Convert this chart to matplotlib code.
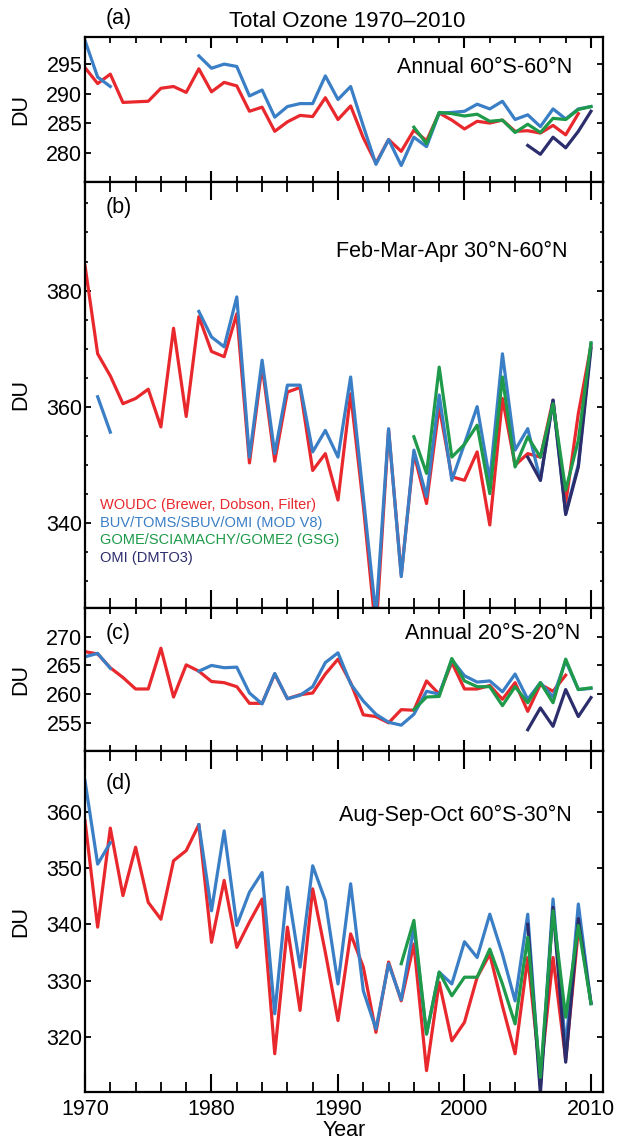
import numpy as np
import matplotlib
matplotlib.use('Agg')
import matplotlib.pyplot as plt
from matplotlib.ticker import MultipleLocator

nan = np.nan
years = np.arange(1970, 2011)

# Panel (a): Annual 60S-60N
a_woudc = [294.4, 291.7, 293.3, 288.5, 288.6, 288.7, 290.9, 291.2, 290.2, 294.2,
           290.3, 291.9, 291.3, 287.0, 287.7, 283.6, 285.2, 286.3, 286.1, 289.3,
           285.6, 287.9, 282.5, 278.2, 282.2, 280.2, 283.8, 282.0, 286.7, 285.5,
           284.0, 285.3, 285.0, 285.5, 283.6, 283.7, 283.3, 284.6, 283.0, 286.6, nan]
a_sbuv = [299.0, 292.8, 291.2, nan, nan, nan, nan, nan, nan, 296.4,
          294.3, 295.0, 294.6, 289.6, 290.6, 286.0, 287.8, 288.3, 288.3, 293.0,
          289.0, 291.2, 284.5, 278.0, 282.2, 277.8, 282.6, 281.0, 286.7, 286.8,
          287.0, 288.2, 287.4, 288.7, 285.6, 286.4, 284.4, 287.4, 285.7, 287.4, 287.8]
a_gome = [nan] * 26 + [284.3, 281.5, 286.8, 286.6, 286.2, 286.5, 285.3, 285.5, 283.4,
                       284.8, 283.4, 285.8, 285.6, 287.3, 287.8]
a_omi = [nan] * 35 + [281.2, 279.7, 282.6, 280.8, 283.6, 287.0]

# Panel (b): Feb-Mar-Apr 30N-60N
b_woudc = [384.3, 369.1, 365.3, 360.5, 361.4, 363.0, 356.5, 373.5, 358.3, 375.5,
           369.5, 368.6, 376.0, 350.3, 367.0, 350.6, 362.5, 363.3, 349.0, 351.9,
           343.9, 362.2, 343.0, 321.0, 356.0, 331.0, 351.9, 343.3, 360.0, 347.9,
           347.3, 352.2, 339.6, 361.4, 349.9, 351.9, 351.3, 361.1, 343.3, 358.8, 370.5]
b_sbuv = [nan, 361.7, 355.6, nan, nan, nan, nan, nan, nan, 376.4,
          372.0, 370.3, 378.9, 351.3, 368.0, 351.9, 363.7, 363.7, 352.2, 355.9,
          351.3, 365.1, 344.5, 324.0, 356.2, 330.7, 352.5, 344.5, 362.0, 347.3,
          353.6, 360.0, 347.3, 369.1, 352.5, 356.2, 347.3, 361.1, 341.6, 350.0, 370.8]
b_gome = [nan] * 26 + [354.8, 348.5, 366.8, 351.3, 353.5, 356.8, 345.0, 365.1, 349.6,
                       354.8, 351.3, 360.5, 345.6, 354.2, 371.0]
b_omi = [nan] * 35 + [351.3, 347.3, 361.1, 341.4, 349.6, 370.0]

# Panel (c): Annual 20S-20N
c_woudc = [267.4, 267.0, 264.6, 262.9, 260.9, 260.9, 268.0, 259.5, 265.1, 264.0,
           262.2, 262.0, 261.3, 258.4, 258.4, 263.5, 259.2, 259.9, 260.2, 263.5,
           266.1, 262.0, 256.4, 256.1, 255.0, 257.3, 257.2, 262.3, 260.0, 265.5,
           260.9, 260.9, 261.5, 259.1, 262.0, 257.0, 261.7, 260.5, 263.3, nan, nan]
c_sbuv = [266.5, 267.1, 264.5, nan, nan, nan, nan, nan, nan, 264.0,
          265.0, 264.6, 264.7, 260.2, 258.3, 263.6, 259.2, 259.8, 261.3, 265.5,
          267.2, 261.8, 258.8, 256.5, 255.1, 254.6, 256.5, 260.5, 260.0, 266.0,
          263.2, 262.1, 262.3, 260.4, 263.5, 259.1, 262.0, 259.5, 265.8, 260.8, 261.0]
c_gome = [nan] * 26 + [257.3, 259.5, 259.6, 266.2, 262.3, 261.3, 261.3, 258.0, 261.3,
                       258.5, 262.0, 258.5, 266.1, 260.8, 261.1]
c_omi = [nan] * 35 + [253.8, 257.6, 254.4, 260.8, 256.1, 259.4]

# Panel (d): Aug-Sep-Oct 60S-30N
d_woudc = [358.4, 339.5, 357.1, 345.1, 353.7, 343.9, 340.9, 351.3, 353.1, 357.7,
           336.8, 347.8, 335.9, 340.4, 344.5, 317.0, 339.5, 324.7, 346.3, 335.0,
           322.9, 338.3, 332.4, 320.8, 333.3, 326.4, 336.5, 314.0, 329.7, 319.3,
           322.6, 330.6, 334.7, 325.5, 317.0, 334.1, 313.0, 334.1, 316.0, 339.0, nan]
d_sbuv = [365.5, 350.7, 354.5, nan, nan, nan, nan, nan, nan, 357.7,
          342.4, 356.6, 339.8, 345.7, 349.2, 324.1, 346.6, 332.4, 350.4, 344.2,
          329.4, 347.2, 328.2, 321.4, 333.0, 326.6, 339.5, 320.5, 331.5, 329.4,
          336.9, 334.1, 341.8, 334.7, 326.4, 341.8, 311.0, 344.5, 318.0, 343.6, 325.9]
d_gome = [nan] * 25 + [333.0, 340.7, 320.5, 331.5, 327.3, 330.6, 330.6, 335.6, 329.4,
                       322.3, 337.7, 312.8, 342.4, 323.5, 339.8, 325.9]
d_omi = [nan] * 35 + [340.0, 310.0, 343.0, 315.5, 341.0, 326.0]

legend_labels = ['WOUDC (Brewer, Dobson, Filter)', 'BUV/TOMS/SBUV/OMI (MOD V8)',
                 'GOME/SCIAMACHY/GOME2 (GSG)', 'OMI (DMTO3)']
colors = ['#e8282d', '#3a7fc6', '#1e9a4a', '#2c2d6c']

plt.rcParams['font.family'] = ['Liberation Sans', 'DejaVu Sans']
fs = 15.5

fig = plt.figure(figsize=(6.23, 11.45), dpi=100)
left, width = 85 / 623, 518 / 623
H = 1145
bounds = [(37, 182), (182, 608), (608, 751), (751, 1092)]  # pixel top/bottom of panels
axes = []
for top, bot in bounds:
    axes.append(fig.add_axes([left, 1 - bot / H, width, (bot - top) / H]))

# ylim, y ticks, y minor step, x tick lengths (major, minor)
panels = [
    (a_woudc, a_sbuv, a_gome, a_omi, (275, 299.6), [280, 285, 290, 295], None, (8, 4.5)),
    (b_woudc, b_sbuv, b_gome, b_omi, (325.3, 398.7), [340, 360, 380], 5, (13, 7.5)),
    (c_woudc, c_sbuv, c_gome, c_omi, (250.1, 275), [255, 260, 265, 270], None, (8, 4.5)),
    (d_woudc, d_sbuv, d_gome, d_omi, (310.2, 370.8), [320, 330, 340, 350, 360], None, (13, 7.5)),
]

for ax, (w, s, g, o, ylim, yt, yminor, tl) in zip(axes, panels):
    ax.plot(years, w, color=colors[0], lw=2.3)
    ax.plot(years, s, color=colors[1], lw=2.3)
    ax.plot(years, o, color=colors[3], lw=2.3)
    ax.plot(years, g, color=colors[2], lw=2.3)
    ax.set_xlim(1970, 2010.95)
    ax.set_ylim(*ylim)
    ax.set_yticks(yt)
    if yminor:
        ax.yaxis.set_minor_locator(MultipleLocator(yminor))
    ax.xaxis.set_major_locator(MultipleLocator(10))
    ax.xaxis.set_minor_locator(MultipleLocator(2))
    ax.tick_params(axis='x', which='major', direction='in', top=True, length=tl[0], width=1.5)
    ax.tick_params(axis='x', which='minor', direction='in', top=True, length=tl[1], width=1.3)
    ax.tick_params(axis='y', which='major', direction='in', right=True, length=4.5, width=1.3,
                   labelsize=fs, pad=2)
    ax.tick_params(axis='y', which='minor', direction='in', right=True, length=2.5, width=1.2)
    ax.tick_params(axis='x', labelsize=fs, pad=5)
    for sp in ax.spines.values():
        sp.set_linewidth(1.6)
    ax.set_ylabel('DU', fontsize=fs)
    ax.yaxis.set_label_coords(-0.104, 0.5)
    if ax is not axes[-1]:
        ax.tick_params(axis='x', labelbottom=False)

axes[-1].set_xlabel('Year', fontsize=fs, labelpad=0)

# panel labels and titles
axes[0].text(0.039, 1.125, '(a)', transform=axes[0].transAxes, fontsize=fs, va='center')
axes[0].text(0.506, 1.11, 'Total Ozone 1970\u20132010', transform=axes[0].transAxes,
             fontsize=16, va='center', ha='center')
axes[0].text(0.94, 0.79, 'Annual 60°S-60°N', transform=axes[0].transAxes,
             fontsize=fs, va='center', ha='right')
axes[1].text(0.039, 0.939, '(b)', transform=axes[1].transAxes, fontsize=fs, va='center')
axes[1].text(0.932, 0.836, 'Feb-Mar-Apr 30°N-60°N', transform=axes[1].transAxes,
             fontsize=fs, va='center', ha='right')
axes[2].text(0.039, 0.825, '(c)', transform=axes[2].transAxes, fontsize=fs, va='center')
axes[2].text(0.956, 0.825, 'Annual 20°S-20°N', transform=axes[2].transAxes,
             fontsize=fs, va='center', ha='right')
axes[3].text(0.039, 0.904, '(d)', transform=axes[3].transAxes, fontsize=fs, va='center')
axes[3].text(0.94, 0.81, 'Aug-Sep-Oct 60°S-30°N', transform=axes[3].transAxes,
             fontsize=fs, va='center', ha='right')

# colored text legend in panel (b)
for i, (lab, c) in enumerate(zip(legend_labels, colors)):
    axes[1].text(0.029, 0.242 - i * 0.0415, lab, color=c, fontsize=10.5,
                 transform=axes[1].transAxes, va='center')

plt.savefig('out.png', dpi=100)
